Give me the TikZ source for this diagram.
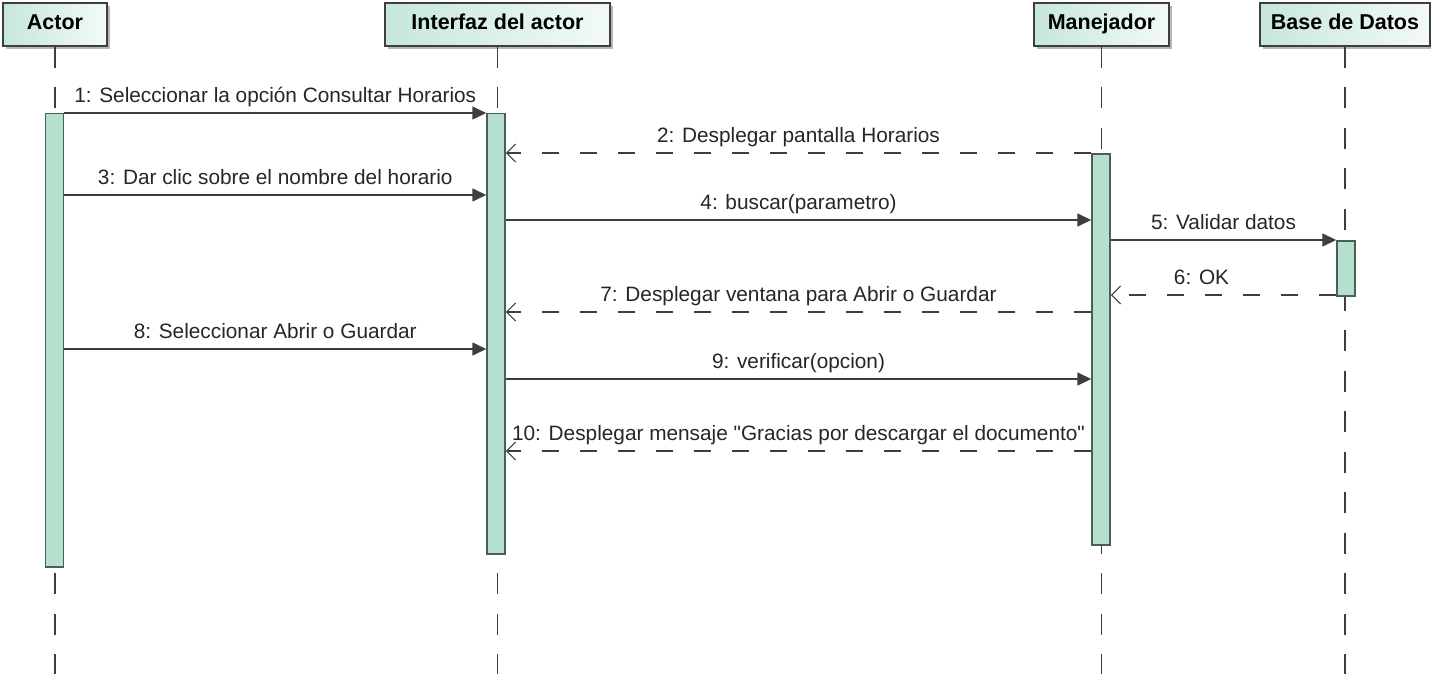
\documentclass[tikz,border=0pt]{standalone}
\usepackage{fontspec}
\setmainfont{Liberation Sans}
\usetikzlibrary{arrows.meta,positioning,shadows}

\definecolor{headfill}{RGB}{198,231,218}
\definecolor{headlight}{RGB}{243,250,247}
\definecolor{barfill}{RGB}{182,224,206}
\definecolor{bardraw}{RGB}{72,96,86}
\definecolor{msgline}{RGB}{62,62,62}

\begin{document}
\begin{tikzpicture}[x=1pt,y=-1pt,
	obj/.style={rectangle, draw=msgline, line width=1.3pt, left color=headfill, right color=headlight,
		minimum height=43pt, inner sep=0pt, text height=15pt, text depth=5pt,
		font=\fontsize{21.5}{25}\selectfont\bfseries,
		drop shadow={shadow xshift=3pt, shadow yshift=-3pt, fill=black!40, opacity=.7}},
	actbar/.style={rectangle, draw=bardraw, line width=1.5pt, fill=barfill, minimum width=18pt, anchor=north, inner sep=0pt},
	lifeline/.style={draw=msgline, line width=1.3pt, dash pattern=on 21pt off 19.5pt},
	call/.style={draw=msgline, line width=1.6pt, -{Triangle[length=14pt, width=13pt]}},
	reply/.style={draw=msgline, line width=1.3pt, dash pattern=on 17pt off 21pt, -{Straight Barb[length=9pt, width=18pt, line width=1.2pt]}},
	msg/.style={midway, anchor=base, yshift=10.5pt, inner sep=0pt, text=black!85, font=\fontsize{20.8}{24}\selectfont},
	]
	\clip (0,0) rectangle (1431,674);
	\fill[white] (0,0) rectangle (1431,674);

	% Objects
	\node[obj, minimum width=104pt] (actor) at (55,24.5) {Actor};
	\node[obj, minimum width=225pt] (inter) at (497.5,24.5) {Interfaz del actor};
	\node[obj, minimum width=135pt] (mgr)   at (1101.5,24.5) {Manejador};
	\node[obj, minimum width=170pt] (db)    at (1345,24.5) {Base de Datos};

	% Lifelines
	\draw[lifeline] (actor.south) -- (actor.south |- 0,680);
	\draw[lifeline] (inter.south) -- (inter.south |- 0,680);
	\draw[lifeline] (mgr.south)   -- (mgr.south |- 0,680);
	\draw[lifeline] (db.south)    -- (db.south |- 0,680);

	% Activation bars
	\node[actbar, minimum height=453pt] (actorbar) at (54.5,113) {};
	\node[actbar, minimum height=440pt] (interbar) at (496,113) {};
	\node[actbar, minimum height=391pt] (mgrbar)   at (1101,153) {};
	\node[actbar, minimum height=55pt]  (dbbar)    at (1346,240) {};

	% Messages
	\draw[call]  (actorbar.east |- 0,113) -- (interbar.west |- 0,113) node[msg] {1: Seleccionar la opción Consultar Horarios};
	\draw[reply] (mgrbar.west |- 0,153) -- (interbar.east |- 0,153) node[msg] {2: Desplegar pantalla Horarios};
	\draw[call]  (actorbar.east |- 0,195) -- (interbar.west |- 0,195) node[msg] {3: Dar clic sobre el nombre del horario};
	\draw[call]  (interbar.east |- 0,220) -- (mgrbar.west |- 0,220) node[msg] {4: buscar(parametro)};
	\draw[call]  (mgrbar.east |- 0,240) -- (dbbar.west |- 0,240) node[msg] {5: Validar datos};
	\draw[reply] (dbbar.west |- 0,295) -- (mgrbar.east |- 0,295) node[msg, xshift=-22pt] {6: OK};
	\draw[reply] (mgrbar.west |- 0,312) -- (interbar.east |- 0,312) node[msg] {7: Desplegar ventana para Abrir o Guardar};
	\draw[call]  (actorbar.east |- 0,349) -- (interbar.west |- 0,349) node[msg] {8: Seleccionar Abrir o Guardar};
	\draw[call]  (interbar.east |- 0,379) -- (mgrbar.west |- 0,379) node[msg] {9: verificar(opcion)};
	\draw[reply] (mgrbar.west |- 0,451) -- (interbar.east |- 0,451) node[msg] {10: Desplegar mensaje \textquotedbl Gracias por descargar el documento\textquotedbl};
\end{tikzpicture}
\end{document}
